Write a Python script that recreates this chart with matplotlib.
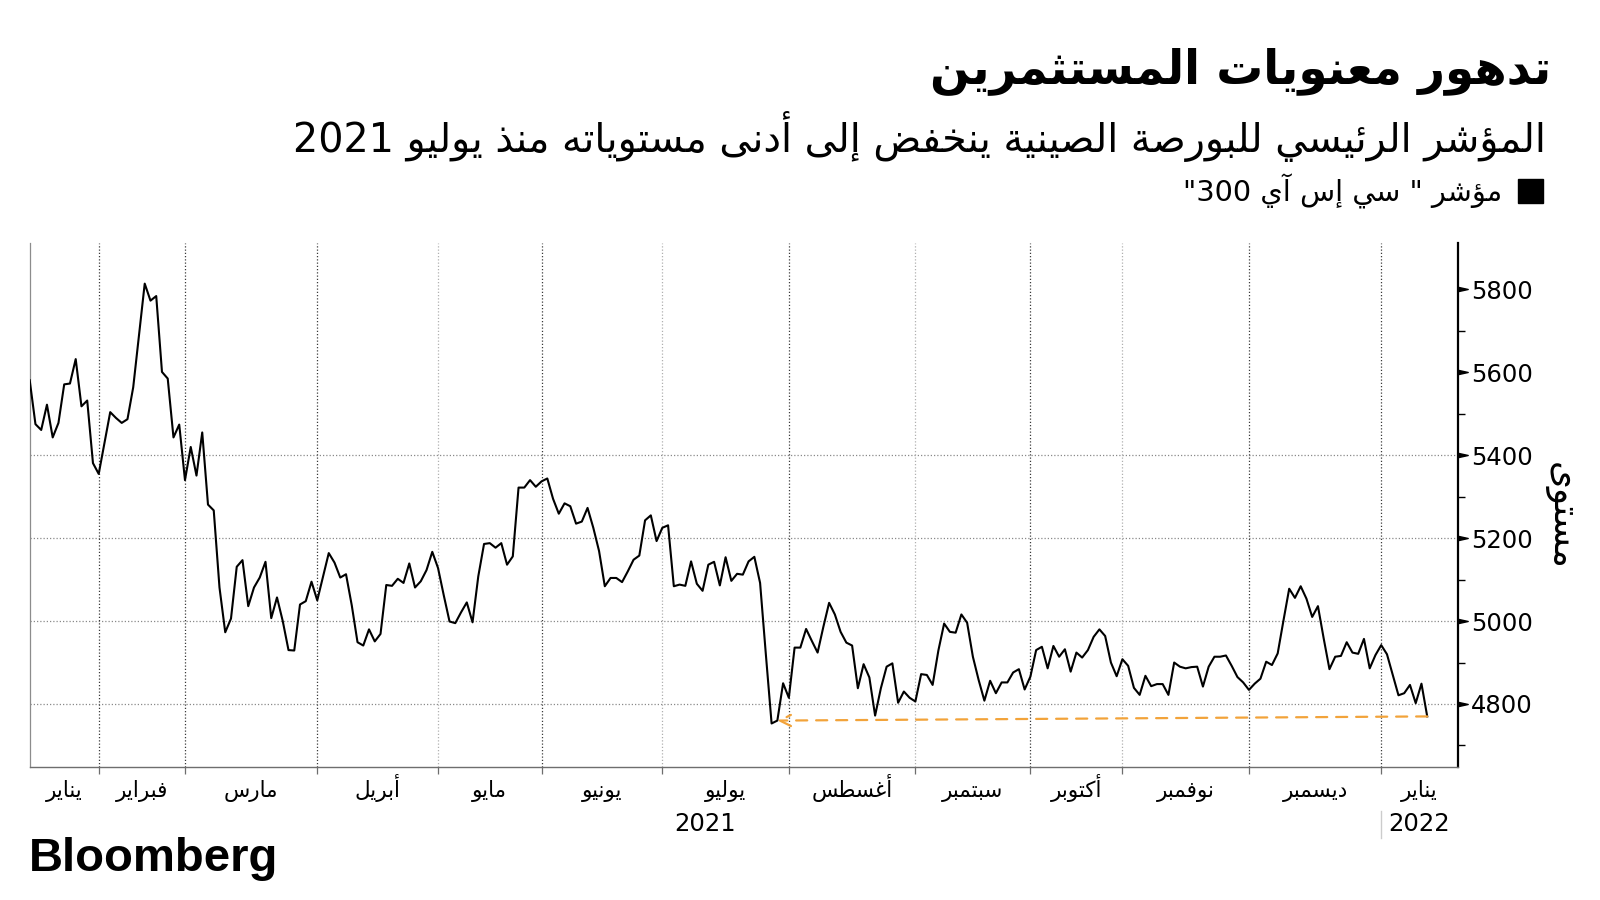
import re
import numpy as np
import matplotlib
matplotlib.use('Agg')
import matplotlib.pyplot as plt
from matplotlib.patches import Rectangle
from matplotlib.path import Path

# CSI 300 daily close (trading days, mid-Jan 2021 .. mid-Jan 2022)
csi300 = [
    5581, 5475, 5461, 5522, 5443, 5478, 5571, 5573, 5632, 5518, 5532, 5381,
    5355, 5430, 5504, 5490, 5478, 5487, 5564, 5690, 5814, 5773, 5784, 5601,
    5585, 5443, 5474, 5340, 5420, 5351, 5455, 5281, 5267, 5081, 4973, 5006,
    5131, 5147, 5036, 5081, 5105, 5143, 5007, 5057, 5000, 4930, 4929, 5040,
    5048, 5095, 5050, 5107, 5164, 5141, 5105, 5113, 5038, 4949, 4941, 4980,
    4951, 4969, 5087, 5085, 5102, 5092, 5139, 5081, 5096, 5123, 5167, 5128,
    5062, 4999, 4995, 5021, 5045, 4997, 5108, 5186, 5188, 5177, 5188, 5136,
    5156, 5322, 5322, 5340, 5324, 5337, 5344, 5295, 5259, 5284, 5277, 5235,
    5240, 5273, 5225, 5169, 5084, 5104, 5104, 5094, 5120, 5148, 5158, 5243,
    5255, 5193, 5225, 5231, 5084, 5088, 5085, 5144, 5090, 5073, 5136, 5143,
    5086, 5154, 5097, 5114, 5112, 5144, 5155, 5092, 4920, 4753, 4760, 4850,
    4815, 4936, 4936, 4981, 4952, 4924, 4986, 5044, 5016, 4974, 4948, 4941,
    4838, 4896, 4864, 4772, 4838, 4890, 4898, 4803, 4830, 4815, 4806, 4872,
    4870, 4846, 4929, 4994, 4974, 4972, 5016, 4996, 4914, 4858, 4808, 4856,
    4826, 4852, 4852, 4876, 4884, 4835, 4866, 4930, 4938, 4886, 4940, 4914,
    4932, 4878, 4924, 4912, 4930, 4962, 4980, 4964, 4900, 4867, 4908, 4892,
    4839, 4822, 4868, 4843, 4848, 4848, 4822, 4900, 4890, 4886, 4889, 4890,
    4842, 4890, 4914, 4914, 4917, 4892, 4865, 4852, 4834, 4849, 4861, 4902,
    4894, 4922, 5001, 5078, 5056, 5084, 5054, 5010, 5036, 4958, 4884, 4914,
    4916, 4949, 4924, 4921, 4957, 4886, 4918, 4942, 4920, 4870, 4821, 4826,
    4846, 4802, 4849, 4770,
]

# index of the first trading day of each month (Feb 2021 .. Jan 2022)
month_starts = [12, 27, 50, 71, 89, 110, 132, 154, 174, 190, 212, 235]
month_names = ['يناير', 'فبراير', 'مارس', 'أبريل', 'مايو', 'يونيو', 'يوليو',
               'أغسطس', 'سبتمبر', 'أكتوبر', 'نوفمبر', 'ديسمبر', 'يناير']
year_names = ['2021', '2022']

y_major = [4800, 5000, 5200, 5400, 5600, 5800]
y_minor = [4700, 4900, 5100, 5300, 5500, 5700]
grid_levels = [4800, 5000, 5200, 5400]

title = 'تدهور معنويات المستثمرين'
subtitle = 'المؤشر الرئيسي للبورصة الصينية ينخفض إلى أدنى مستوياته منذ يوليو 2021'
legend_label = 'مؤشر " سي إس آي 300"'
y_label = 'مستوى'

ORANGE = '#f2a33a'
FONT = 'DejaVu Sans'

# --- tiny arabic shaper: matplotlib has no shaping / bidi ---
_DUAL = dict(zip('ئبتثجحخسشصضطظعغفقكلمنهي',
                 [0xFE89, 0xFE8F, 0xFE95, 0xFE99, 0xFE9D, 0xFEA1, 0xFEA5, 0xFEB1,
                  0xFEB5, 0xFEB9, 0xFEBD, 0xFEC1, 0xFEC5, 0xFEC9, 0xFECD, 0xFED1,
                  0xFED5, 0xFED9, 0xFEDD, 0xFEE1, 0xFEE5, 0xFEE9, 0xFEF1]))
_RIGHT = dict(zip('آأؤإاةدذرزوى',
                  [0xFE81, 0xFE83, 0xFE85, 0xFE87, 0xFE8D, 0xFE93, 0xFEA9, 0xFEAB,
                   0xFEAD, 0xFEAF, 0xFEED, 0xFEEF]))
_LAMALEF = {'آ': 0xFEF5, 'أ': 0xFEF7, 'إ': 0xFEF9, 'ا': 0xFEFB}


def ar(text):
    out = []
    i, n = 0, len(text)
    while i < n:
        c = text[i]
        prev = i > 0 and text[i - 1] in _DUAL
        if c == 'ل' and i + 1 < n and text[i + 1] in _LAMALEF:
            out.append(chr(_LAMALEF[text[i + 1]] + (1 if prev else 0)))
            i += 2
            continue
        nxt = text[i + 1] if i + 1 < n else ''
        if c in _DUAL:
            nj = nxt in _DUAL or nxt in _RIGHT
            form = 3 if (prev and nj) else 1 if prev else 2 if nj else 0
            out.append(chr(_DUAL[c] + form))
        elif c in _RIGHT:
            out.append(chr(_RIGHT[c] + (1 if prev else 0)))
        else:
            out.append(c)
        i += 1
    vis = ''.join(out)[::-1]
    return re.sub(r'[0-9A-Za-z]+', lambda m: m.group(0)[::-1], vis)


fig = plt.figure(figsize=(16, 9), dpi=100)
W, H = 1600, 900
ax = fig.add_axes([29.7 / W, 133 / H, 1428 / W, 524 / H])

x = np.arange(len(csi300))
ax.plot(x, csi300, color='black', lw=1.5, zorder=3)
ax.set_xlim(0, 248.3)
ax.set_ylim(4648, 5912)

# grid
for lvl in grid_levels:
    ax.axhline(lvl, color='#8a8a8a', lw=0.9, ls=(0, (1, 1.6)), zorder=1)
dark = [True, True, True, False, True, False, True, False, True, False, True, True]
for pos, d in zip(month_starts, dark):
    ax.axvline(pos, color='#3a3a3a' if d else '#b0b0b0', lw=0.9,
               ls=(0, (1, 1.6)), zorder=1)

# spines
ax.spines['top'].set_visible(False)
ax.spines['left'].set_color('#8c8c8c')
ax.spines['left'].set_linewidth(0.9)
ax.spines['bottom'].set_color('#6e6e6e')
ax.spines['bottom'].set_linewidth(1.0)
ax.spines['right'].set_color('black')
ax.spines['right'].set_linewidth(1.6)

# y axis on the right
ax.yaxis.tick_right()
ax.set_yticks(y_major)
ax.set_yticks(y_minor, minor=True)
ax.set_yticklabels([str(v) for v in y_major], fontsize=17.5, family=FONT)
ax.tick_params(axis='y', which='major', length=0, pad=9.4)
ax.tick_params(axis='y', which='minor', length=5, width=1, color='black')
tri = Path([(0, -0.22), (0, 0.22), (1, 0), (0, -0.22)],
           [Path.MOVETO, Path.LINETO, Path.LINETO, Path.CLOSEPOLY])
ax.plot(np.ones(len(y_major)), y_major, ls='none', marker=tri, ms=14,
        color='black', transform=ax.get_yaxis_transform(), clip_on=False)

# x axis: month boundaries + month names centred in each month
ax.set_xticks(month_starts)
ax.set_xticklabels([])
ax.tick_params(axis='x', which='major', length=5, width=0.9, color='#6e6e6e')
edges = [ax.get_xlim()[0]] + month_starts + [ax.get_xlim()[1]]
mids = [(a + b) / 2 for a, b in zip(edges[:-1], edges[1:])]
xt = ax.get_xaxis_transform()
for m, name in zip(mids, month_names):
    ax.text(m, -0.058, ar(name), transform=xt, ha='center', va='baseline',
            fontsize=15.5, family=FONT)

# year labels under the months
ax.text((edges[0] + month_starts[-1]) / 2, -0.109, year_names[0], transform=xt,
        ha='center', va='center', fontsize=17.5, family=FONT)
ax.text((month_starts[-1] + edges[-1]) / 2, -0.109, year_names[1], transform=xt,
        ha='center', va='center', fontsize=17.5, family=FONT)
ax.plot([month_starts[-1]] * 2, [-0.084, -0.136], color='#cccccc', lw=1,
        transform=xt, clip_on=False)

# dashed arrow: latest close back to the July low
low_i = int(np.argmin(csi300[:200]))
ax.annotate('', xy=(low_i + 1, csi300[low_i + 1]), xytext=(x[-1], csi300[-1]),
            arrowprops=dict(arrowstyle='->', color=ORANGE, lw=1.6,
                            linestyle=(0, (5, 4)), shrinkA=0, shrinkB=0,
                            mutation_scale=20), zorder=4)

# texts
fig.canvas.draw()
rend = fig.canvas.get_renderer()


def fit(t, px, along='w'):
    bb = t.get_window_extent(rend)
    size = bb.width if along == 'w' else bb.height
    t.set_fontsize(t.get_fontsize() * px / size)


t1 = fig.text(1551 / W, 1 - 71 / H, ar(title), ha='right', va='center',
              fontsize=30, fontweight='bold', family=FONT)
fit(t1, 622)
t2 = fig.text(1546 / W, 1 - 137 / H, ar(subtitle), ha='right', va='center',
              fontsize=24, family=FONT)
fit(t2, 1257)
t3 = fig.text(1502 / W, 1 - 191 / H, ar(legend_label), ha='right', va='center',
              fontsize=18, family=FONT)
fit(t3, 320)
fig.patches.append(Rectangle((1518 / W, 1 - 203 / H), 25 / W, 24 / H,
                             transform=fig.transFigure, color='black'))
t4 = fig.text(1560 / W, 1 - 516 / H, ar(y_label), ha='center', va='center',
              rotation=270, fontsize=20, family=FONT)
fit(t4, 108, along='h')
t5 = fig.text(29 / W, 1 - 859 / H, 'Bloomberg', ha='left', va='center',
              fontsize=30, fontweight='bold', family='Liberation Sans')
fit(t5, 249)

fig.savefig('out.png', dpi=100, facecolor='white')
